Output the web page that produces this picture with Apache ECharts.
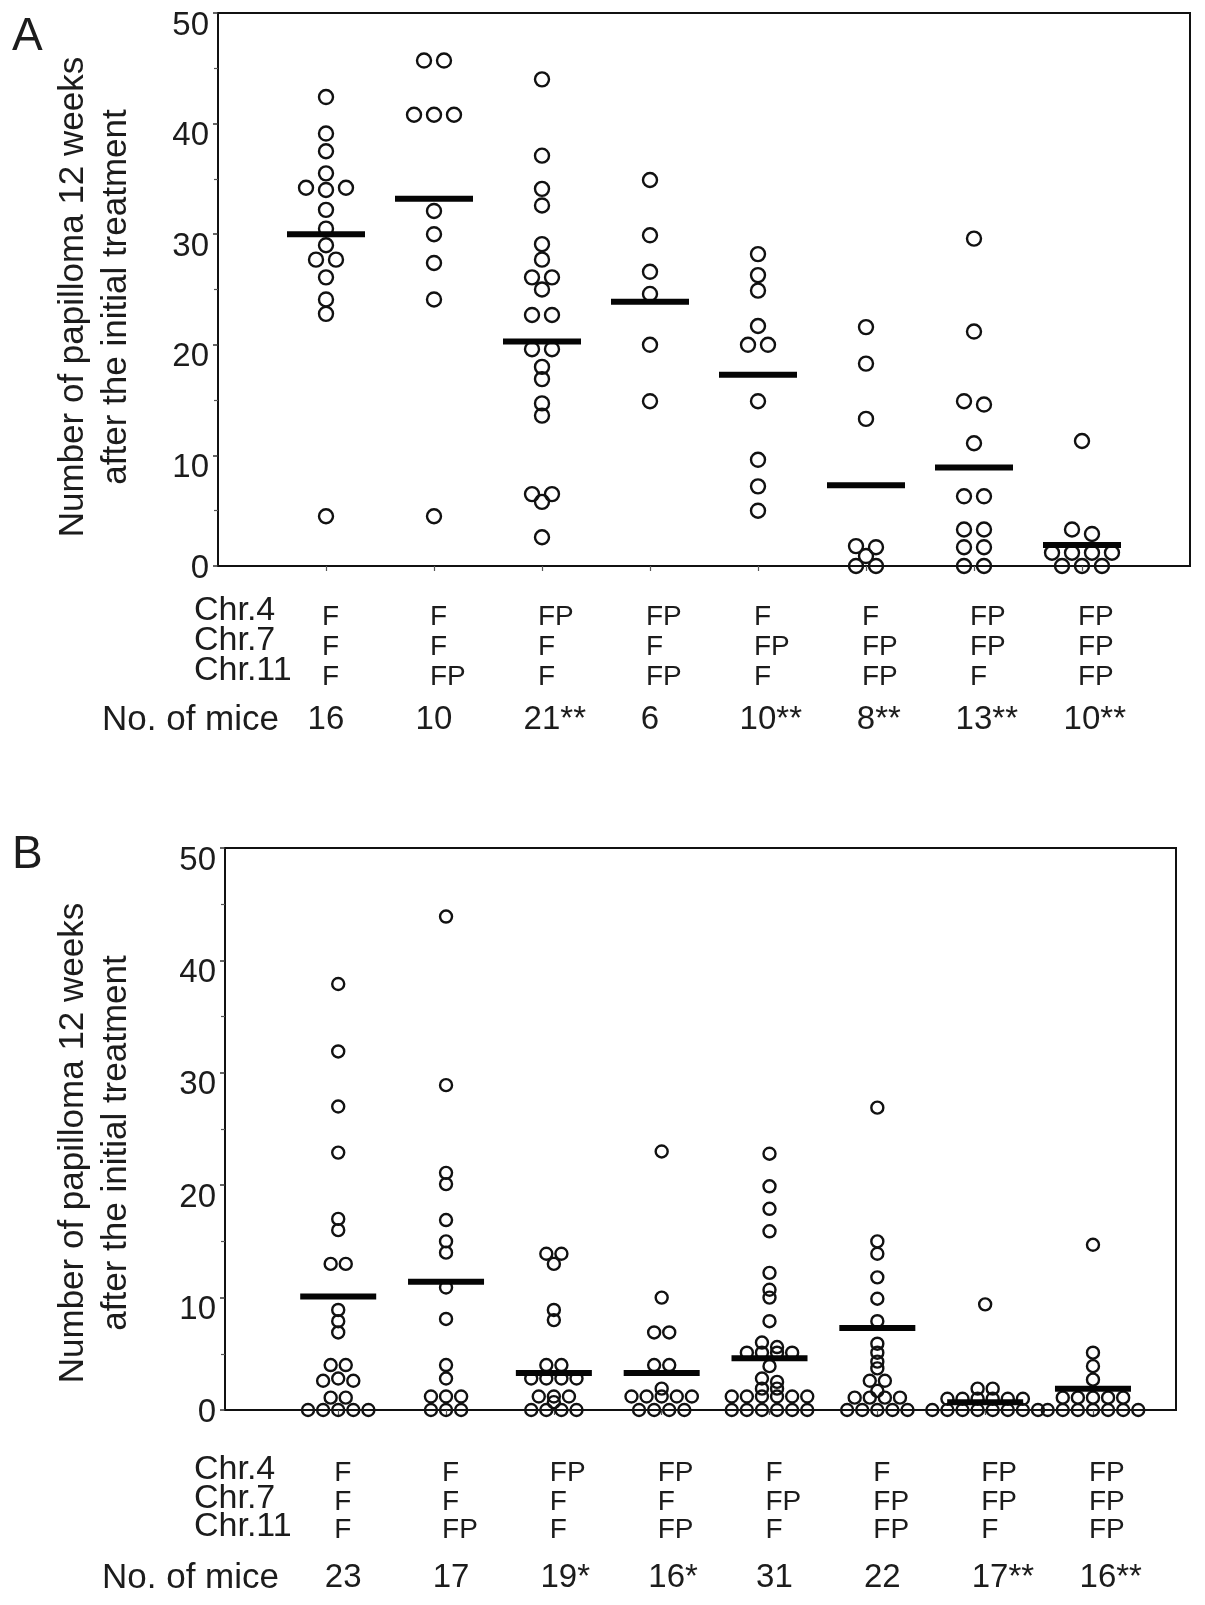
<!DOCTYPE html>
<html><head><meta charset="utf-8">
<script src="https://cdn.jsdelivr.net/npm/echarts@6/dist/echarts.min.js"></script>
<style>html,body{margin:0;padding:0;background:#fff}#c{width:1205px;height:1605px}</style>
</head><body><div id="c"></div><script>
// ---- data ----
const groups = [1, 2, 3, 4, 5, 6, 7, 8];
const chr4 = ['F', 'F', 'FP', 'FP', 'F', 'F', 'FP', 'FP'];
const chr7 = ['F', 'F', 'F', 'F', 'FP', 'FP', 'FP', 'FP'];
const chr11 = ['F', 'FP', 'F', 'FP', 'F', 'FP', 'F', 'FP'];
const miceA = ['16', '10', '21**', '6', '10**', '8**', '13**', '10**'];
const miceB = ['23', '17', '19*', '16*', '31', '22', '17**', '16**'];
const yTicks = [0, 10, 20, 30, 40, 50];
const yTitle = 'Number of papilloma 12 weeks\nafter the initial treatment';

const valuesA1 = [42.4, 39.1, 37.5, 35.5, 34.2, 34.0, 34.2, 32.2, 30.5, 29.0, 27.7, 27.7, 26.1, 24.1, 22.8, 4.5];
const valuesA2 = [45.7, 45.7, 40.8, 40.8, 40.8, 32.1, 30.0, 27.4, 24.1, 4.5];
const valuesA3 = [44.0, 37.1, 34.1, 32.6, 29.1, 27.7, 26.1, 26.1, 25.0, 22.7, 22.7, 19.6, 19.6, 18.0, 16.9, 14.7, 13.6, 6.5, 6.5, 5.8, 2.6];
const valuesA4 = [34.9, 29.9, 26.6, 24.6, 20.0, 14.9];
const valuesA5 = [28.2, 26.3, 24.9, 21.7, 20.0, 20.0, 14.9, 9.6, 7.2, 5.0];
const valuesA6 = [21.6, 18.3, 13.3, 1.8, 1.7, 0.9, 0, 0];
const valuesA7 = [29.6, 21.2, 14.9, 14.6, 11.1, 6.3, 6.3, 3.3, 3.3, 1.7, 1.7, 0, 0];
const valuesA8 = [11.3, 3.3, 2.9, 1.2, 1.2, 1.2, 1.2, 0, 0, 0];
const meansA = [30.0, 33.2, 20.3, 23.9, 17.3, 7.3, 8.9, 1.9];

const valuesB1 = [37.9, 31.9, 27.0, 22.9, 17.0, 16.0, 13.0, 13.0, 8.9, 7.9, 6.9, 4.0, 4.0, 2.6, 2.8, 2.6, 1.1, 1.1, 0, 0, 0, 0, 0];
const valuesB2 = [43.9, 28.9, 21.1, 20.1, 16.9, 15.0, 14.0, 10.9, 8.1, 4.0, 2.8, 1.2, 1.2, 1.2, 0, 0, 0];
const valuesB3 = [13.9, 13.9, 13.0, 8.9, 8.0, 4.0, 4.0, 2.8, 2.8, 2.8, 2.8, 1.2, 1.2, 1.2, 0.7, 0, 0, 0, 0];
const valuesB4 = [23.0, 10.0, 6.9, 6.9, 4.0, 4.0, 1.9, 1.2, 1.2, 1.2, 1.2, 1.2, 0, 0, 0, 0];
const valuesB5 = [22.8, 19.9, 17.9, 15.9, 12.2, 10.7, 10.0, 7.9, 6.0, 5.6, 5.1, 5.1, 5.1, 5.1, 3.9, 2.8, 2.5, 1.9, 1.9, 1.2, 1.2, 1.2, 1.2, 1.2, 1.2, 0, 0, 0, 0, 0, 0];
const valuesB6 = [26.9, 15.0, 13.9, 11.8, 9.9, 7.9, 5.9, 5.1, 4.3, 3.7, 2.6, 2.6, 1.7, 1.1, 1.1, 1.1, 1.1, 0, 0, 0, 0, 0];
const valuesB7 = [9.4, 1.9, 1.9, 1.0, 1.0, 1.0, 1.0, 1.0, 1.0, 0, 0, 0, 0, 0, 0, 0, 0];
const valuesB8 = [14.7, 5.1, 3.9, 2.7, 1.1, 1.1, 1.1, 1.1, 1.1, 0, 0, 0, 0, 0, 0, 0];
const meansB = [10.1, 11.4, 3.3, 3.3, 4.6, 7.3, 0.7, 1.9];

const valuesA = [valuesA1, valuesA2, valuesA3, valuesA4, valuesA5, valuesA6, valuesA7, valuesA8];
const valuesB = [valuesB1, valuesB2, valuesB3, valuesB4, valuesB5, valuesB6, valuesB7, valuesB8];

// ---- layout helpers ----
// points with (near-)equal counts are spread side by side, centred on the group
function swarm(vals, g, step) {
  const out = [];
  let i = 0;
  while (i < vals.length) {
    let j = i + 1;
    while (j < vals.length && Math.abs(vals[j] - vals[i]) <= 0.45) j++;
    const k = j - i;
    for (let m = 0; m < k; m++) out.push([g + (m - (k - 1) / 2) * step, vals[i + m]]);
    i = j;
  }
  return out;
}
function buildPoints(all, step) {
  let pts = [];
  all.forEach((vals, gi) => { pts = pts.concat(swarm(vals, groups[gi], step)); });
  return pts;
}

const FONT = 'Liberation Sans';
const TXT = '#1c1c1c';

function yAxisCfg(gi) {
  return {
    type: 'value', gridIndex: gi, min: yTicks[0], max: yTicks[yTicks.length - 1], interval: 10,
    axisLine: { show: true, onZero: false, lineStyle: { color: '#111', width: 2 } },
    axisTick: { show: true, length: 5, lineStyle: { color: '#333', width: 1.5 } },
    minorTick: { show: true, splitNumber: 2, length: 4, lineStyle: { color: '#555', width: 1.2 } },
    splitLine: { show: false },
    axisLabel: {
      fontSize: 33, fontFamily: FONT, color: TXT, margin: 9, verticalAlign: 'top', lineHeight: 25,
      formatter: v => (v === 0 ? '{z|0}' : String(v)),
      rich: { z: { fontSize: 33, fontFamily: FONT, color: TXT, lineHeight: 6 } }
    }
  };
}
function xAxisCfg(gi, min, max) {
  return {
    type: 'value', gridIndex: gi, min: min, max: max,
    axisLine: { show: true, onZero: false, lineStyle: { color: '#111', width: 2 } },
    axisTick: { show: true, length: 5, customValues: groups, lineStyle: { color: '#555', width: 1.2 } },
    axisLabel: { show: false },
    splitLine: { show: false }
  };
}
function pointSeries(idx, data, size) {
  return {
    type: 'scatter', xAxisIndex: idx, yAxisIndex: idx, data: data, symbol: 'circle', symbolSize: size,
    itemStyle: { color: 'rgba(0,0,0,0)', borderColor: '#111', borderWidth: 2.4, opacity: 1 },
    emphasis: { disabled: true }, z: 3
  };
}
function meanSeries(idx, means, w) {
  return {
    type: 'scatter', xAxisIndex: idx, yAxisIndex: idx,
    data: means.map((m, i) => [groups[i], m]), symbol: 'rect', symbolSize: [w, 6],
    itemStyle: { color: '#050505', opacity: 1 }, emphasis: { disabled: true }, z: 4
  };
}

const chart = echarts.init(document.getElementById('c'), null, { renderer: 'canvas' });
chart.setOption({
  animation: false,
  backgroundColor: '#fff',
  grid: [
    { left: 218, top: 13, width: 972, height: 553, show: true, borderColor: '#111', borderWidth: 2, backgroundColor: 'transparent' },
    { left: 225, top: 848, width: 951, height: 562, show: true, borderColor: '#111', borderWidth: 2, backgroundColor: 'transparent' }
  ],
  xAxis: [xAxisCfg(0, 0, 9), xAxisCfg(1, -0.05, 8.77)],
  yAxis: [yAxisCfg(0), yAxisCfg(1)],
  series: [
    pointSeries(0, buildPoints(valuesA, 0.185), 14),
    meanSeries(0, meansA, 78),
    pointSeries(1, buildPoints(valuesB, 0.14), 12),
    meanSeries(1, meansB, 76)
  ]
});

// ---- texts under each panel, positioned from the axis scale ----
function panelTexts(idx, rowsY, valsY, miceY, mice, titleY, letter, letterY) {
  const els = [];
  const rowNames = ['Chr.4', 'Chr.7', 'Chr.11'];
  const rowVals = [chr4, chr7, chr11];
  rowNames.forEach((nm, r) => {
    els.push({ type: 'text', x: 194, y: rowsY[r], style: { text: nm, font: '34px ' + FONT, fill: TXT, textAlign: 'left', textVerticalAlign: 'middle' } });
    rowVals[r].forEach((t, gi) => {
      const px = chart.convertToPixel({ xAxisIndex: idx }, groups[gi]);
      els.push({ type: 'text', x: px - 4, y: valsY[r], style: { text: t, font: '28px ' + FONT, fill: TXT, textAlign: 'left', textVerticalAlign: 'middle' } });
    });
  });
  els.push({ type: 'text', x: 102, y: miceY, style: { text: 'No. of mice', font: '35px ' + FONT, fill: TXT, textAlign: 'left', textVerticalAlign: 'middle' } });
  mice.forEach((t, gi) => {
    const px = chart.convertToPixel({ xAxisIndex: idx }, groups[gi]);
    const digits = t.replace(/\*/g, '').length;
    els.push({ type: 'text', x: px + (idx === 1 ? 5 : 0) - digits * 18.4 / 2, y: miceY, style: { text: t, font: '33px ' + FONT, fill: TXT, textAlign: 'left', textVerticalAlign: 'middle' } });
  });
  els.push({ type: 'text', x: 95, y: titleY, rotation: Math.PI / 2, style: { text: yTitle, font: '35px ' + FONT, fill: TXT, textAlign: 'center', textVerticalAlign: 'middle', lineHeight: 43 } });
  els.push({ type: 'text', x: 12, y: letterY, style: { text: letter, font: '46px ' + FONT, fill: TXT, textAlign: 'left', textVerticalAlign: 'middle' } });
  return els;
}
chart.setOption({
  graphic: [].concat(
    panelTexts(0, [611, 641, 671], [617, 647, 677], 720, miceA, 297, 'A', 37),
    panelTexts(1, [1470, 1499, 1527], [1473, 1502, 1530], 1578, miceB, 1143, 'B', 855)
  )
});
</script></body></html>
